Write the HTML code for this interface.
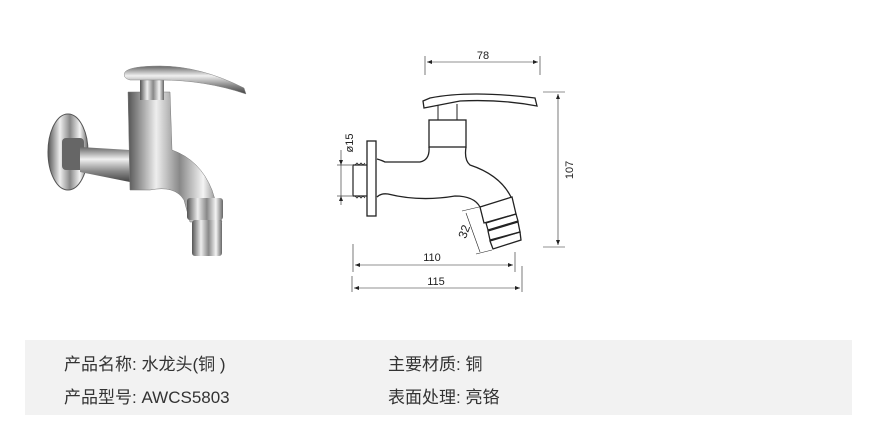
<!DOCTYPE html>
<html><head><meta charset="utf-8"><style>
html,body{margin:0;padding:0;background:#fff;width:880px;height:436px;overflow:hidden}
.band{position:absolute;left:25px;top:340px;width:827px;height:75px;background:#f2f2f2}
.t{position:absolute;font-family:"Liberation Sans","Noto Sans CJK SC",sans-serif;font-size:17px;color:#333;white-space:nowrap}
</style></head><body>
<svg width="880" height="340" style="position:absolute;left:0;top:0" font-family="Liberation Sans, sans-serif">
<defs>
<linearGradient id="m" x1="0" x2="1"><stop offset="0" stop-color="#555"/><stop offset=".3" stop-color="#eee"/><stop offset=".55" stop-color="#888"/><stop offset=".8" stop-color="#f4f4f4"/><stop offset="1" stop-color="#666"/></linearGradient>
<linearGradient id="mv" x1="0" y1="0" x2="0" y2="1"><stop offset="0" stop-color="#666"/><stop offset=".35" stop-color="#f0f0f0"/><stop offset=".7" stop-color="#888"/><stop offset="1" stop-color="#444"/></linearGradient>
</defs>
<!-- photo faucet -->
<ellipse cx="68" cy="152" rx="20" ry="38" fill="url(#m)" stroke="#555"/>
<rect x="62" y="138" width="22" height="32" fill="#666" rx="4"/>
<path d="M80 147 L130 150 L130 182 L80 172Z" fill="url(#mv)"/>
<path d="M128 92 L170 92 L172 150 Q200 160 212 190 L222 222 L190 222 L184 200 Q175 185 150 190 L130 190Z" fill="url(#m)" stroke="#777" stroke-width=".5"/>
<rect x="140" y="78" width="24" height="22" fill="url(#m)"/>
<path d="M125 72 Q130 66 160 66 Q200 66 244 88 L246 94 Q205 80 160 80 L130 80 Q122 78 125 72Z" fill="url(#mv)" stroke="#888" stroke-width=".5"/>
<rect x="187" y="198" width="36" height="22" fill="url(#m)" rx="3"/>
<rect x="192" y="220" width="30" height="36" fill="url(#m)" rx="3"/>
<!-- technical drawing -->
<g stroke="#222" fill="none" stroke-width="1">
<line x1="425" y1="56" x2="425" y2="75" stroke-width=".6"/><line x1="540" y1="56" x2="540" y2="75" stroke-width=".6"/>
<line x1="427" y1="62" x2="538" y2="62" stroke-width=".6"/>
<path d="M423 101 L430 98 Q470 90 535 98 L537 106 Q500 99 460 101 L424 108Z" stroke-width="1.3"/>
<line x1="438" y1="105" x2="438" y2="120"/><line x1="457" y1="104" x2="457" y2="120"/>
<rect x="429" y="120" width="37" height="27" stroke-width="1.3"/>
<path d="M429 147 Q430 160 420 162 L385 162 Q381 160 377 159" stroke-width="1.3"/>
<path d="M466 147 Q464 160 470 165 Q500 175 511 197" stroke-width="1.3"/>
<path d="M377 197 Q381 193 388 194 Q420 202 455 196 Q474 196 480 207" stroke-width="1.3"/>
<rect x="367" y="141" width="9" height="75" stroke-width="1.3"/>
<path d="M367 165 L353 165 L353 196 L367 196" stroke-width="1.2"/>
<path d="M355 165 L357 163 L359 165 L361 163 L363 165 L365 163 M355 196 L357 198 L359 196 L361 198 L363 196 L365 198" stroke-width=".8"/>
<!-- nozzle -->
<g stroke-width="1.3">
<path d="M480 207 L512 197 L516 214 L484 223Z"/>
<path d="M486 223 L516 214 L518 221 L488 230Z"/>
<path d="M488 231 L518 222 L520 232 L490 240Z"/>
<path d="M490 241 L520 232 L521 240 L493 249Z"/>
</g>
<line x1="462" y1="211" x2="479" y2="207" stroke-width=".6"/>
<line x1="476" y1="254" x2="492" y2="250" stroke-width=".6"/>
<line x1="466" y1="213" x2="480" y2="252" stroke-width=".6"/>
<line x1="558" y1="94" x2="558" y2="245" stroke-width=".6"/>
<line x1="543" y1="92" x2="565" y2="92" stroke-width=".6"/><line x1="543" y1="247" x2="565" y2="247" stroke-width=".6"/>
<line x1="337" y1="165" x2="352" y2="165" stroke-width=".6"/><line x1="337" y1="196" x2="352" y2="196" stroke-width=".6"/>
<line x1="341" y1="150" x2="341" y2="205" stroke-width=".6"/>
<line x1="353" y1="244" x2="353" y2="272" stroke-width=".6"/><line x1="515" y1="252" x2="515" y2="272" stroke-width=".6"/>
<line x1="355" y1="265" x2="513" y2="265" stroke-width=".6"/>
<line x1="352" y1="276" x2="352" y2="292" stroke-width=".6"/><line x1="522" y1="266" x2="522" y2="292" stroke-width=".6"/>
<line x1="354" y1="288" x2="520" y2="288" stroke-width=".6"/>
</g>
<g fill="#222" font-size="11">
<path d="M427 62 l5 -2 v4z M538 62 l-5 -2 v4z M558 94 l-2 5 h4z M558 245 l-2 -5 h4z M355 265 l5 -2 v4z M513 265 l-5 -2 v4z M354 288 l5 -2 v4z M520 288 l-5 -2 v4z M341 165 l-2 -5 h4z M341 196 l-2 5 h4z"/>
<text x="483" y="59" text-anchor="middle">78</text>
<text x="432" y="261" text-anchor="middle">110</text>
<text x="436" y="285" text-anchor="middle">115</text>
<text transform="translate(573 170) rotate(-90)" text-anchor="middle">107</text>
<text transform="translate(353 143) rotate(-90)" text-anchor="middle">ø15</text>
<text transform="translate(468 233) rotate(-70)" text-anchor="middle" font-size="12">32</text>
</g>
</svg>
<div class="band"></div>
<div class="t" style="left:64px;top:350px">产品名称: 水龙头(铜 )</div>
<div class="t" style="left:388px;top:350px">主要材质: 铜</div>
<div class="t" style="left:64px;top:383px">产品型号: AWCS5803</div>
<div class="t" style="left:388px;top:383px">表面处理: 亮铬</div>
</body></html>
